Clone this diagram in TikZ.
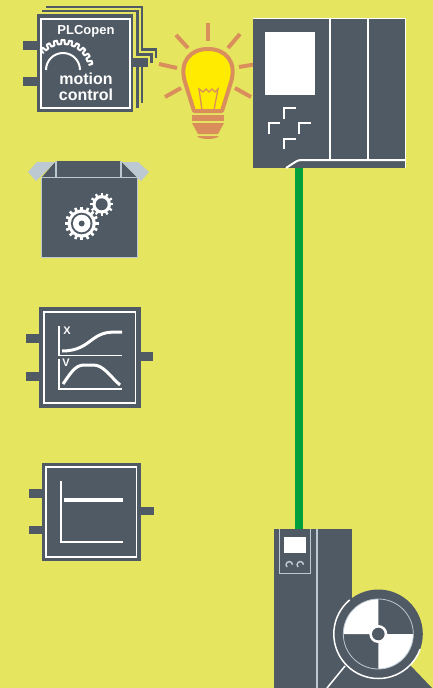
\documentclass[tikz,border=0pt]{standalone}
\usepackage{fontspec}
\setmainfont{Liberation Sans}
\definecolor{bgyellow}{HTML}{E5E55F}
\definecolor{slate}{HTML}{505A64}
\definecolor{paleblue}{HTML}{BCC8D2}
\definecolor{bulbline}{HTML}{D98E5C}
\definecolor{bulbfill}{HTML}{FFEB00}
\definecolor{cablegreen}{HTML}{00A03C}
\tikzset{
  dark/.style={fill=slate},
  frame/.style={draw=white, line width=1.2},
  ray/.style={draw=bulbline, line width=4},
  curve/.style={draw=white, line width=3, line join=round},
  axis/.style={draw=white, line width=1.3},
  mark corner/.style={draw=white, line width=1.3},
  label/.style={text=white, inner sep=0},
}
\begin{document}
\begin{tikzpicture}[x=1pt, y=-1pt]
    % Background
    \fill[bgyellow] (0,0) rectangle (433,688);
    \useasboundingbox (0,0) rectangle (433,688);

    % Stacked motion block, back layers
    \fill[dark] (46,5.5) rectangle (143,103);
    \fill[dark] (143,48) rectangle (157,58);
    \fill[bgyellow] (43.5,8) rectangle (140.5,105);
    \fill[bgyellow] (140,50.5) rectangle (154.5,60.5);
    \fill[dark] (41.5,9.5) rectangle (138.5,107.5);
    \fill[dark] (138,53) rectangle (152.5,63);
    \fill[bgyellow] (39,12) rectangle (136,110);
    \fill[bgyellow] (135,55.5) rectangle (150,65.5);

    % Stacked motion block, front
    \fill[dark] (23,41) rectangle (37,50);
    \fill[dark] (23,77) rectangle (37,86);
    \fill[dark] (133,58) rectangle (148,67);
    \fill[dark] (36.7,14) rectangle (133,112);
    \draw[frame] (41,19) rectangle (130,108);
    \node[label, font=\bfseries\fontsize{13}{15}\selectfont] (plcopen) at (86,31) {PLCopen};
    \node[label, font=\bfseries\fontsize{16}{17}\selectfont] (motion) at (86,78.5) {motion};
    \node[label, font=\bfseries\fontsize{16}{17}\selectfont] (control) at (86,95) {control};
    \begin{scope}[shift={(63,70)}]
        \draw[white, line width=2] (180:17) arc (180:360:17);
        \draw[white, line width=2, line join=round] (-140:26)
            \foreach \a in {-135,-120,...,-15} { -- (\a-4:26) -- (\a-3:30) -- (\a+3:30) -- (\a+4:26) };
    \end{scope}

    % Open box with gears
    \fill[dark] (57,161) rectangle (121,177);
    \fill[dark] (42,177) -- (55,162) -- (55,177) -- cycle;
    \fill[dark] (137,177) -- (122,162) -- (122,177) -- cycle;
    \draw[paleblue, line width=1.2] (56,161) -- (56,177);
    \draw[paleblue, line width=1.2] (121,161) -- (121,177);
    \fill[paleblue] (55,162) -- (36,181) -- (28,172) -- (37,162) -- cycle;
    \fill[paleblue] (122,162) -- (141,181) -- (149,172) -- (138,162) -- cycle;
    \draw[dark, draw=paleblue, line width=1] (41.7,177) rectangle (137,257);
    \begin{scope}[shift={(81.7,223.5)}]
        \foreach \a in {0,22.5,...,337.5}
            \draw[white, line width=2.6] (\a:12) -- (\a:16.8);
        \fill[white] (0,0) circle[radius=14];
        \fill[slate] (0,0) circle[radius=10.8];
        \fill[white] (0,0) circle[radius=8.8];
        \fill[slate] (0,0) circle[radius=3];
    \end{scope}
    \begin{scope}[shift={(101.7,204.3)}]
        \foreach \a in {0,30,...,330}
            \draw[white, line width=2.2] (\a:8) -- (\a:11.7);
        \fill[white] (0,0) circle[radius=9.3];
        \fill[slate] (0,0) circle[radius=6];
    \end{scope}

    % Motion profile block
    \fill[dark] (26,334) rectangle (39,343);
    \fill[dark] (26,372) rectangle (39,381);
    \fill[dark] (140,352) rectangle (153,361);
    \fill[dark] (39,306.7) rectangle (140.7,408);
    \draw[frame] (44,312) rectangle (135.7,403);
    \draw[axis] (59,326) -- (59,355.5) -- (122,355.5);
    \draw[axis] (59,359) -- (59,389) -- (122,389);
    \node[label, font=\bfseries\fontsize{11}{13}\selectfont] (xlabel) at (67,331) {X};
    \node[label, font=\bfseries\fontsize{11}{13}\selectfont] (vlabel) at (66,363) {V};
    \draw[curve] (62,351) .. controls (78,351) and (85,345) .. (93,339) .. controls (103,332) and (108,332) .. (122,332);
    \draw[curve] (63,384) .. controls (70,374) and (75,365) .. (84,365) -- (93,365) .. controls (103,365) and (108,374) .. (120,385);

    % Flat speed block
    \fill[dark] (29,489) rectangle (41.7,498);
    \fill[dark] (29,526) rectangle (41.7,534);
    \fill[dark] (141,506.7) rectangle (153.7,515);
    \fill[dark] (41.7,462.7) rectangle (141,561);
    \draw[frame] (46,467) rectangle (136.7,557);
    \draw[axis] (61,481) -- (61,542) -- (122.7,542);
    \draw[white, line width=4] (64,499.5) -- (122.7,499.5);

    % Light bulb
    \draw[ray] (208,23) -- (208,41);
    \draw[ray] (176,35) -- (188,48);
    \draw[ray] (240,34) -- (228,48);
    \draw[ray] (159,64) -- (177,68);
    \draw[ray] (239,67) -- (257,64);
    \draw[ray] (165,97) -- (181,88);
    \draw[ray] (251,97) -- (235,88);
    \draw[draw=bulbline, fill=bulbfill, line width=4, line join=round] (194,111) -- (185,82)
        .. controls (179,62) and (190,49) .. (208,49) .. controls (226,49) and (237,62) .. (231,82) -- (222,111) -- cycle;
    \draw[bulbline, line width=1.3] (202,110) -- (199,89) -- (203,92) -- (206,89) -- (209,92) -- (212,89) -- (215,92) -- (218,89) -- (214,110);
    \fill[bulbline] (192,114.5) rectangle (224,120.5);
    \fill[bulbline] (192,123) -- (224,123) -- (218,134) -- (198,134) -- cycle;
    \fill[bulbline] (197,136) -- (219,136) .. controls (216,140) and (200,140) .. (197,136) -- cycle;

    % Servo drive, top
    \fill[dark] (253,18) rectangle (405,168);
    \draw[white, line width=1] (253,18) -- (405,18) -- (405,168);
    \fill[white] (265,32) rectangle (315,95);
    \draw[white, line width=2] (329.5,18) -- (329.5,160);
    \draw[white, line width=2] (368,18) -- (368,160);
    \draw[white, line width=2] (286,168) -- (296,161.5) .. controls (298,160.5) and (299,160) .. (302,160) -- (405,160);
    \draw[mark corner] (284,119) -- (284,108) -- (296,108);
    \draw[mark corner] (269,134) -- (269,123) -- (280,123);
    \draw[mark corner] (299,134) -- (299,123) -- (311,123);
    \draw[mark corner] (284,149) -- (284,139) -- (296,139);

    % Cable
    \coordinate (drivetop) at (299,168);
    \coordinate (drivebot) at (299,529);
    \draw[cablegreen, line width=8] (drivetop) -- (drivebot);

    % Inverter, bottom
    \fill[dark] (274,529) rectangle (352.3,688);
    \draw[paleblue, line width=1] (279.5,529) -- (279.5,573) -- (310.5,573) -- (310.5,529);
    \draw[paleblue, line width=2] (317,529) -- (317,688);
    \fill[white] (284,537) rectangle (305.7,553);
    \draw[paleblue, line width=1.5] (287,567) arc (135:360:3.2);
    \draw[paleblue, line width=1.5] (298,567) arc (135:360:3.2);

    % Motor
    \fill[dark] (327,688) -- (345,666) -- (410,665) -- (432,688) -- cycle;
    \draw[white, line width=1.5] (345,666) -- (327,688);
    \begin{scope}[shift={(378.3,634)}]
        \fill[slate] (0,0) circle[radius=44.5];
        \draw[white, line width=1.5] (-130:44.5) arc (-130:-340:44.5);
        \fill[white] (0,0) -- (180:35) arc (180:270:35) -- cycle;
        \fill[white] (0,0) -- (0:35) arc (0:90:35) -- cycle;
        \draw[paleblue, line width=0.8] (0,0) circle[radius=35];
        \fill[white] (0,0) circle[radius=9];
        \fill[slate] (0,0) circle[radius=6.3];
    \end{scope}
\end{tikzpicture}
\end{document}
